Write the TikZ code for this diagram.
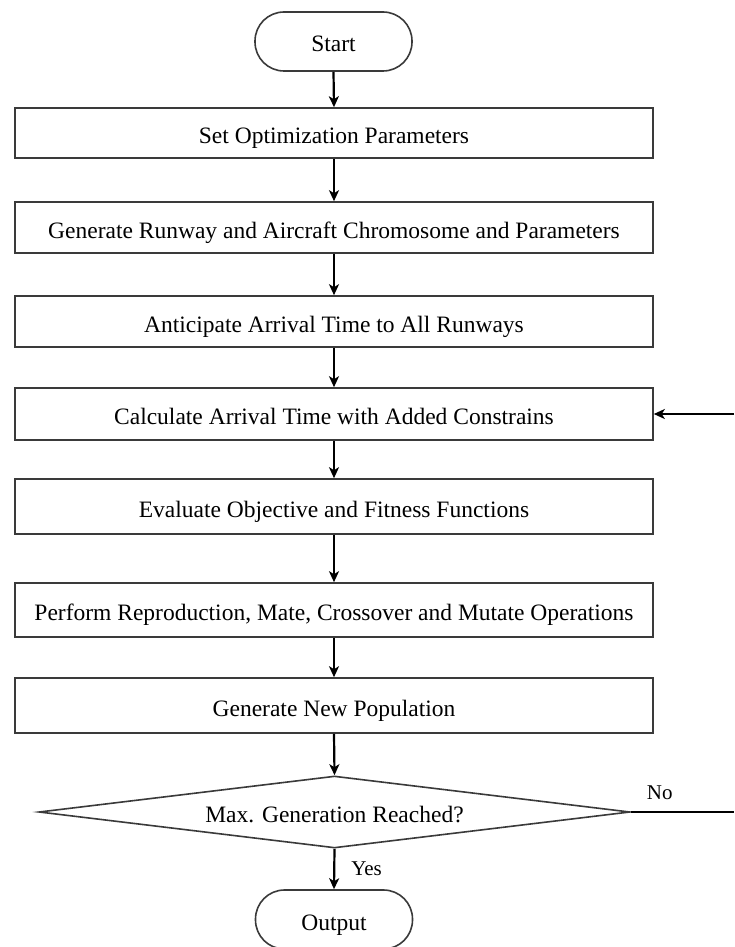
\documentclass[tikz,border=0pt]{standalone}
\usepackage{fontspec}
\setmainfont{Liberation Serif}
\usetikzlibrary{shapes.geometric,arrows.meta}
\definecolor{edgegray}{HTML}{3A3A3A}
\tikzset{
  every node/.style={font=\fontsize{23.5}{26}\selectfont, text=black},
  procbox/.style={draw=edgegray, line width=1.6pt, rectangle, minimum width=638pt, inner sep=0pt, text height=21pt, text depth=0pt, anchor=center},
  termbox/.style={draw=edgegray, line width=1.6pt, rectangle, rounded corners=29pt, minimum width=157pt, minimum height=59pt, inner sep=0pt, text height=21pt, text depth=0pt},
  decbox/.style={draw=edgegray, line width=1.6pt, diamond, aspect=8.2, minimum width=591pt, minimum height=72pt, inner sep=0pt, text height=21pt, text depth=0pt},
  arr/.style={draw=black, line width=2.2pt, -{Stealth[length=11pt,width=10pt,inset=3pt]}},
  plainline/.style={draw=black, line width=2.4pt},
  lbl/.style={font=\fontsize{21}{24}\selectfont, inner sep=0pt}
}
\begin{document}
\begin{tikzpicture}[x=1pt,y=-1pt]
\useasboundingbox (0,0) rectangle (734,947);
\fill[white] (0,0) rectangle (734,947);
\node[termbox] (start) at (333.5,41.5) {Start};
\node[procbox, minimum height=50pt] (b1) at (334,133) {Set Optimization Parameters};
\node[procbox, minimum height=51pt] (b2) at (334,227.5) {Generate Runway and Aircraft Chromosome and Parameters};
\node[procbox, minimum height=51pt] (b3) at (334,321.5) {Anticipate Arrival Time to All Runways};
\node[procbox, minimum height=52pt] (b4) at (334,414) {Calculate Arrival Time with Added Constrains};
\node[procbox, minimum height=55pt] (b5) at (334,506.5) {Evaluate Objective and Fitness Functions};
\node[procbox, minimum height=54pt] (b6) at (334,610) {Perform Reproduction, Mate, Crossover and Mutate Operations};
\node[procbox, minimum height=55pt] (b7) at (334,705.5) {Generate New Population};
\node[decbox] (dec) at (334.5,812) {Max. Generation Reached?};
\node[termbox] (out) at (334,919.5) {Output};
\coordinate (noend) at (734,812);
\coordinate (fbstart) at (734,414);
\draw[arr] (start.south) -- (b1.north);
\draw[arr] (b1) -- (b2);
\draw[arr] (b2) -- (b3);
\draw[arr] (b3) -- (b4);
\draw[arr] (b4) -- (b5);
\draw[arr] (b5) -- (b6);
\draw[arr] (b6) -- (b7);
\draw[arr] (b7.south) -- (dec.north);
\draw[arr] (dec.south) -- (out.north) node[lbl, pos=0.5, anchor=west, xshift=16pt] {Yes};
\draw[plainline] (dec.east) -- (noend) node[lbl, pos=0.28, anchor=base, yshift=13pt] {No};
\draw[arr] (fbstart) -- (b4.east);
\end{tikzpicture}
\end{document}
